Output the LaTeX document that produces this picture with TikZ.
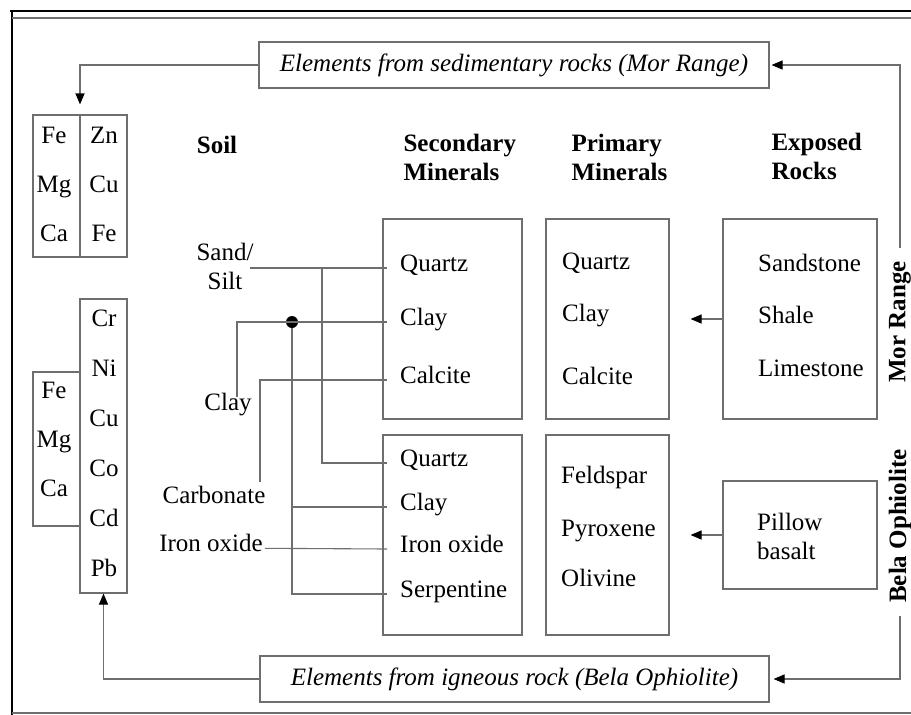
\documentclass[tikz,border=0pt]{standalone}
\usepackage{fontspec}
\setmainfont{Liberation Serif}
\usetikzlibrary{arrows.meta}
\definecolor{linegray}{HTML}{6E6E6E}
\newcommand{\figfont}{\fontsize{25}{29}\selectfont}

\begin{document}
\begin{tikzpicture}
  [x=1pt,y=-1pt,every node/.style={font=\figfont},
   box/.style={draw=linegray,line width=1.1pt,inner sep=0pt},
   txt/.style={inner sep=0pt,text height=0.9em,text depth=0.24em},
   item/.style={txt,anchor=west},
   head/.style={align=left,anchor=west,font=\figfont\bfseries},
   link/.style={draw=linegray,line width=1.1pt},
   arr/.style={link,-{Triangle[length=11pt,width=9pt,color=black]}}]
  \useasboundingbox (0,0) rectangle (911,715);

  % frame
  \draw[line width=2.5pt] (10,11) -- (911,11);
  \draw[line width=2.5pt] (12,10) -- (12,715);
  \draw[link] (12,18) -- (911,18);
  \draw[link] (12,713) -- (911,713);

  % headers
  \node[font=\figfont\bfseries] (soil) at (217,145) {Soil};
  \node[head] (hsec) at (400,157.5) {Secondary\\Minerals};
  \node[head] (hpri) at (568,157.5) {Primary\\Minerals};
  \node[head] (hexp) at (768,156) {Exposed\\Rocks};

  % element boxes
  \node[box,minimum width=94pt,minimum height=142pt] (elA) at (80,186) {};
  \draw[link] (elA.north) -- (elA.south);
  \node[box,minimum width=47pt,minimum height=294pt] (elC) at (103.5,446) {};
  \node[box,minimum width=47pt,minimum height=154pt] (elB) at (56.5,449) {};
  \foreach \el/\yy [count=\i] in {Fe/140,Mg/189,Ca/238}
    \node[txt] (ta\i) at (54,\yy) {\el};
  \foreach \el/\yy [count=\i] in {Zn/140,Cu/189,Fe/238}
    \node[txt] (tb\i) at (104,\yy) {\el};
  \foreach \el/\yy [count=\i] in {Fe/395,Mg/444,Ca/493}
    \node[txt] (lb\i) at (54,\yy) {\el};
  \foreach \el/\yy [count=\i] in {Cr/323,Ni/373,Cu/423,Co/473,Cd/523,Pb/573}
    \node[txt] (lc\i) at (104,\yy) {\el};

  % source boxes
  \node[box,minimum width=510pt,minimum height=46pt,font=\figfont\itshape] (sedi) at (514,65)
    {Elements from sedimentary rocks (Mor Range)};
  \node[box,minimum width=509pt,minimum height=46pt,font=\figfont\itshape] (igne) at (514.5,679)
    {Elements from igneous rock (Bela Ophiolite)};
  \node[rotate=90,font=\figfont\bfseries] (mor) at (900,322) {Mor Range};
  \node[rotate=90,font=\figfont\bfseries] (bela) at (900,526) {Bela Ophiolite};

  % mineral boxes
  \node[box,minimum width=139pt,minimum height=200pt] (sec1) at (452.5,319) {};
  \node[box,minimum width=139pt,minimum height=200pt] (sec2) at (452.5,535) {};
  \node[box,minimum width=123pt,minimum height=200pt] (pri1) at (607.5,319) {};
  \node[box,minimum width=123pt,minimum height=200pt] (pri2) at (607.5,535) {};
  \node[box,minimum width=154pt,minimum height=200pt] (exp1) at (800,319) {};
  \node[box,minimum width=154pt,minimum height=108pt] (exp2) at (800,535) {};

  \foreach \w/\yy [count=\i] in {Quartz/268,Clay/322,Calcite/380}
    \node[item,inner xsep=13pt] (s\i) at (387,\yy) {\w};
  \foreach \w/\yy [count=\i] in {Quartz/463,Clay/507,Iron oxide/549,Serpentine/594}
    \node[item,inner xsep=13pt] (t\i) at (387,\yy) {\w};
  \foreach \w/\yy [count=\i] in {Quartz/266,Clay/318,Calcite/381}
    \node[item] (p\i) at (562,\yy) {\w};
  \foreach \w/\yy [count=\i] in {Feldspar/480,Pyroxene/533,Olivine/583}
    \node[item] (q\i) at (561,\yy) {\w};
  \foreach \w/\yy [count=\i] in {Sandstone/268,Shale/320,Limestone/373}
    \node[item] (r\i) at (758,\yy) {\w};
  \node[align=left,anchor=west,inner sep=0pt] (pil) at (757,536) {Pillow\\basalt};

  % soil side
  \node[align=center,inner sep=0pt] (sand) at (225,266) {Sand/\\Silt};
  \node[txt] (clay) at (228,407) {Clay};
  \node[txt] (carb) at (214,500) {Carbonate};
  \node[txt,inner xsep=2pt] (iron) at (211,548) {Iron oxide};
  \coordinate (sj) at (250,268);
  \coordinate (sv) at (322,268);
  \coordinate (cj) at (237,397);
  \coordinate (kj) at (260,482);
  \node[circle,fill,inner sep=0pt,minimum size=12pt] (dot) at (292,322) {};

  \foreach \from/\to in {sj/s1,iron/t3}
    \draw[link] (\from) -- (\to.west);
  \foreach \from/\to in {sv/t1,cj/s2,dot/t4,kj/s3}
    \draw[link] (\from) |- (\to.west);
  \draw[link] (dot |- t2.west) -- (t2.west);

  % arrows
  \draw[arr,shorten <=10pt,shorten >=2pt] (mor.east) |- (sedi.east);
  \draw[arr,shorten >=10pt] (sedi.west) -| (elA.north);
  \draw[arr,shorten <=10pt,shorten >=4pt] (bela.west) |- (igne.east);
  \draw[arr] (igne.west) -| (elC.south);
  \draw[arr,shorten >=21pt] (exp1.west) -- (pri1.east);
  \draw[arr,shorten >=21pt] (exp2.west) -- (pri2.east);

\end{tikzpicture}
\end{document}
